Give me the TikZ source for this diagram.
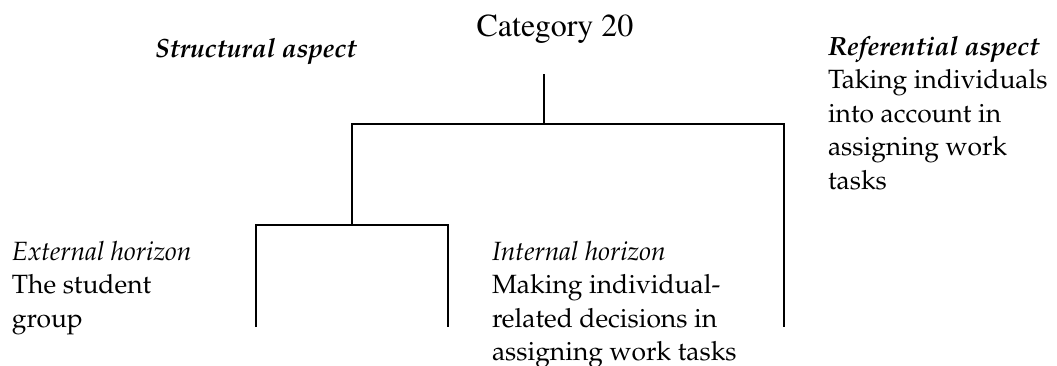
\documentclass[tikz,border=0pt]{standalone}
\usepackage[T1]{fontenc}
\usepackage{mathpazo}
\begin{document}
\begin{tikzpicture}[x=1pt,y=-1pt,
  lbl/.style={inner sep=0pt,outer sep=0pt,align=left,anchor=base west,
    font=\fontsize{26.4}{33.6}\selectfont},
  treeline/.style={line width=1.6pt,line cap=butt,line join=miter}]
\useasboundingbox (0,0) rectangle (1057,365);

% headings and labels (multi-line nodes are placed by the baseline of their last line)
\node[inner sep=0pt,anchor=base,font=\fontfamily{ptm}\fontsize{32}{36}\selectfont]
  (cat) at (555,36) {Category 20};
\node[lbl,font=\fontsize{26.4}{33.6}\selectfont\bfseries\itshape] (struct) at (155,57) {Structural aspect};
\node[lbl] (ref) at (828,189.4) {\textbf{\textit{Referential aspect}}\\Taking individuals\\into account in\\assigning work\\tasks};
\node[lbl] (ext) at (12,327.2) {\textit{External horizon}\\The student\\group};
\node[lbl] (int) at (492,360.8) {\textit{Internal horizon}\\Making individual-\\related decisions in\\assigning work tasks};

% tree junctions
\coordinate (root) at (544,74);
\coordinate (rootj) at (544,124);
\coordinate (lj) at (352,124);
\coordinate (rj) at (784,124);
\coordinate (rb) at (784,327);
\coordinate (lsub) at (352,225);
\coordinate (lla) at (256,225);
\coordinate (llb) at (256,327);
\coordinate (lra) at (448,225);
\coordinate (lrb) at (448,327);

\draw[treeline] (root) -- (rootj);
\draw[treeline] (lsub) -- (lj) -- (rj) -- (rb);
\draw[treeline] (llb) -- (lla) -- (lra) -- (lrb);
\end{tikzpicture}
\end{document}
